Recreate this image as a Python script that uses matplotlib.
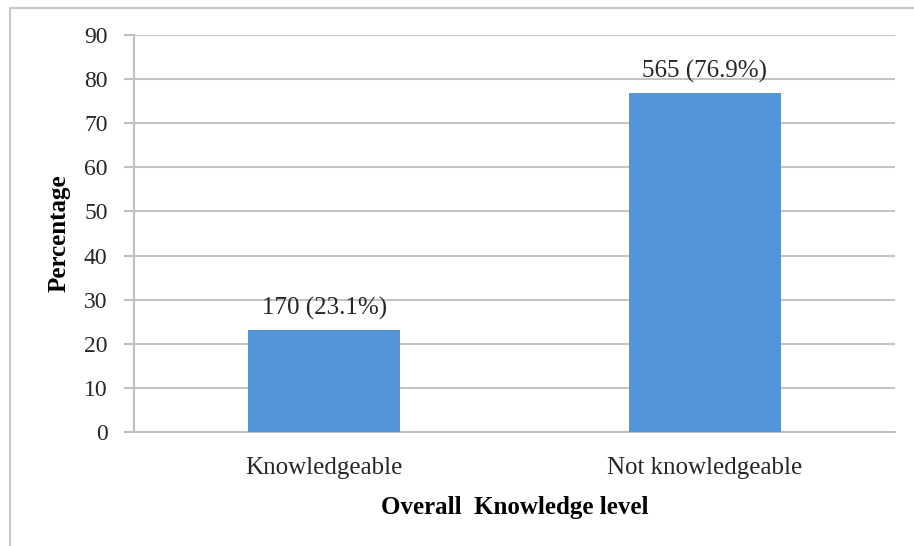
import matplotlib.pyplot as plt
import numpy as np
from matplotlib.patches import Rectangle

# Data
categories = ['Knowledgeable', 'Not knowledgeable']
counts = [170, 565]
percentages = [23.1, 76.9]

plt.rcParams['font.family'] = ['Liberation Serif', 'DejaVu Serif']

fig = plt.figure(figsize=(9.14, 5.46), dpi=100)
ax = fig.add_axes([0.1466, 0.2088, 0.8324, 0.7271])

# outer frame like the original screenshot
fig.patches.append(Rectangle((10 / 914, -0.05), 1.2, 1 - 8 / 546 + 0.05, transform=fig.transFigure,
                             fill=False, edgecolor='#c8c8c8', linewidth=1.5))

x = np.arange(len(categories))
bars = ax.bar(x, percentages, width=0.40, color='#5295d8', zorder=3)

for rect, n, p in zip(bars, counts, percentages):
    ax.annotate(f'{n} ({p}%)', xy=(rect.get_x() + rect.get_width() / 2, rect.get_height()),
                xytext=(0, 7), textcoords='offset points',
                ha='center', va='bottom', fontsize=18, color='#262626')

ax.set_xlim(-0.5, 1.5)
ax.set_ylim(0, 90)
ax.set_yticks(np.arange(0, 91, 10))
ax.set_xticks(x)
ax.set_xticklabels(categories, fontsize=18, color='#262626')
ax.tick_params(axis='y', labelsize=17, labelcolor='#262626', length=7, color='#bfbfbf', width=1.5, pad=12)
ax.tick_params(axis='x', length=0, pad=18)

ax.yaxis.grid(True, color='#c4c4c4', linewidth=1.5, zorder=0)
ax.set_axisbelow(True)
for s in ['top', 'right']:
    ax.spines[s].set_visible(False)
for s in ['left', 'bottom']:
    ax.spines[s].set_color('#bfbfbf')
    ax.spines[s].set_linewidth(1.5)

ax.set_ylabel('Percentage', fontsize=18, fontweight='bold', labelpad=10)
ax.set_xlabel('Overall  Knowledge level', fontsize=18, fontweight='bold', labelpad=12)

plt.savefig('out.png', dpi=100)
